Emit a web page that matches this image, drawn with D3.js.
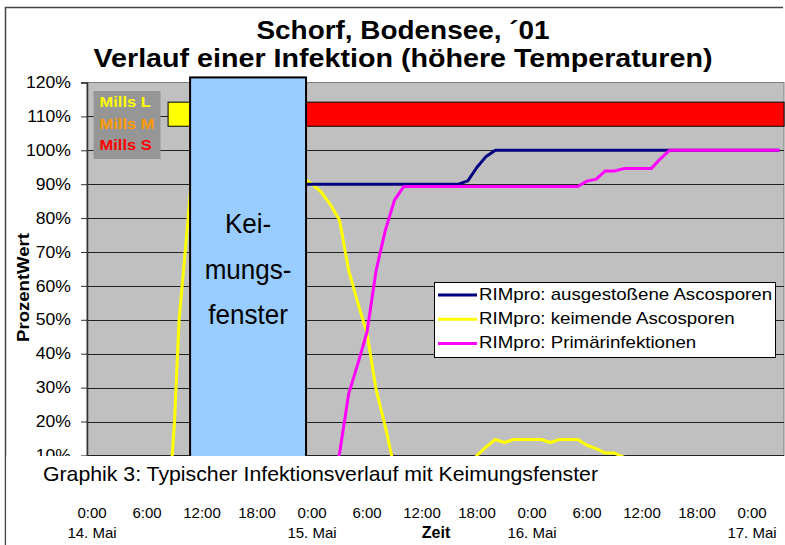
<!DOCTYPE html>
<html>
<head>
<meta charset="utf-8">
<script src="https://cdn.jsdelivr.net/npm/d3@7/dist/d3.min.js"></script>
<style>
  body { margin: 0; background: #fff; }
  svg { display: block; font-family: "Liberation Sans", Arial, sans-serif; }
</style>
</head>
<body>
<svg id="chart" width="785" height="545"></svg>
<script>
// ---- data (hours from 14. Mai 0:00, values in %) ----
const blueHours   = [12, 14, 17, 20, 40, 41, 42, 43, 44, 75];
const blueValues  = [0, 50, 85, 90, 90, 91, 95, 98.2, 100, 100];

const yellowHours  = [0, 8.5, 9, 9.5, 10, 11, 14, 18, 22, 23, 24, 25, 26, 27, 28, 29, 30, 31, 32, 33, 34, 36, 38, 40, 41,
                      42, 43, 44, 45, 46, 47, 48, 49, 50, 51, 52, 53, 54, 55, 56, 57, 58, 59, 60, 62, 64, 66, 70, 75];
const yellowValues = [0, 0, 20, 50, 65, 96, 100, 100, 95, 92, 90, 87.7, 84, 79.4, 64.6, 55, 46, 29.3, 18.5, 6, 3, 1, 1, 3, 6,
                      10, 12.5, 14.7, 13.8, 14.7, 14.7, 14.7, 14.7, 13.8, 14.7, 14.7, 14.7, 13, 12, 10.7, 10.7, 9.5, 8, 6, 4, 2, 1, 0, 0];

const magentaHours  = [0, 25, 26, 27, 28, 29, 30, 31, 32, 33, 34, 53, 54, 55, 56, 57, 58, 61, 62, 63, 75];
const magentaValues = [0, 0, 1, 10.5, 28.2, 37, 46.4, 64.6, 76.4, 85.3, 89.3, 89.3, 90.9, 91.5, 93.9, 93.9, 94.6, 94.6, 97.5, 100, 100];

const seriesNames = ["RIMpro: ausgestoßene Ascosporen", "RIMpro: keimende Ascosporen", "RIMpro: Primärinfektionen"];
const seriesColors = ["#000080", "#FFFF00", "#FF00FF"];

// Mills risk bars
const millsNames  = ["Mills L", "Mills M", "Mills S"];
const millsColors = ["#FFFF00", "#FF9900", "#FF0000"];
const millsStart  = [8.3, 14, 19];
const millsEnd    = [14, 19, 75.5];
const millsTop = 114.2, millsBottom = 107.1;

// Keimungsfenster
const keimStart = 10.7, keimEnd = 23.35, keimTop = 121.5;
const keimWords = ["Kei-", "mungs-", "fenster"];

// 0% lies under the caption panel, so the visible ticks start at 10%
const yTicks = [10, 20, 30, 40, 50, 60, 70, 80, 90, 100, 110, 120];
const timeHours  = [0, 6, 12, 18, 24, 30, 36, 42, 48, 54, 60, 66, 72];
const timeLabels = ["0:00", "6:00", "12:00", "18:00", "0:00", "6:00", "12:00", "18:00", "0:00", "6:00", "12:00", "18:00", "0:00"];
const dateHours  = [0, 24, 48, 72];
const dateLabels = ["14. Mai", "15. Mai", "16. Mai", "17. Mai"];

function stretch(sel, f) {
  sel.each(function() {
    let w = this.getComputedTextLength();
    d3.select(this).attr("textLength", w * f).attr("lengthAdjust", "spacingAndGlyphs");
  });
}

function draw() {
  let svg = d3.select("#chart");
  let left = 87, right = 784;

  let x = d3.scaleLinear().domain([0, 72]).range([92, 752]);
  let y = d3.scaleLinear().domain([0, 120]).range([489.3, 82.5]);

  // outer frame
  svg.append("line").attr("x1", 5).attr("x2", 783).attr("y1", 7.5).attr("y2", 7.5)
    .attr("stroke", "#444").attr("stroke-width", 1.5);
  svg.append("line").attr("x1", 5.5).attr("x2", 5.5).attr("y1", 7).attr("y2", 545)
    .attr("stroke", "#444").attr("stroke-width", 1.5);

  // title
  svg.append("text").attr("x", 403).attr("y", 39).attr("text-anchor", "middle")
    .style("font-size", "25px").style("font-weight", "bold")
    .attr("textLength", 293).attr("lengthAdjust", "spacingAndGlyphs")
    .text("Schorf, Bodensee, ´01");
  svg.append("text").attr("x", 403).attr("y", 67).attr("text-anchor", "middle")
    .style("font-size", "25px").style("font-weight", "bold")
    .attr("textLength", 619).attr("lengthAdjust", "spacingAndGlyphs")
    .text("Verlauf einer Infektion (höhere Temperaturen)");

  // plot area
  svg.append("rect").attr("x", left).attr("y", y(120)).attr("width", right - left).attr("height", y(0) - y(120))
    .attr("fill", "#C0C0C0").attr("stroke", "#808080").attr("stroke-width", 1);

  // gridlines
  svg.append("g").selectAll("line")
    .data(yTicks.filter(d => d < 120))
    .join("line")
    .attr("x1", left).attr("x2", right)
    .attr("y1", d => Math.round(y(d)) + 0.5).attr("y2", d => Math.round(y(d)) + 0.5)
    .attr("stroke", "#222").attr("stroke-width", 1);

  // y axis
  let yAxis = svg.append("g").attr("transform", "translate(" + left + ",0)")
    .call(d3.axisLeft(y).tickValues(yTicks).tickFormat(d => d + "%").tickSize(6).tickPadding(10));
  yAxis.select(".domain").attr("stroke", "#333").attr("stroke-width", 1.5);
  yAxis.selectAll(".tick line").attr("stroke", "#333");
  yAxis.selectAll(".tick text").style("font-size", "16px").style("font-family", "Liberation Sans, Arial, sans-serif")
    .attr("fill", "#000").call(stretch, 1.1);

  // y title
  svg.append("text").attr("transform", "translate(29,287.5) rotate(-90)")
    .attr("text-anchor", "middle").style("font-size", "17px").style("font-weight", "bold")
    .text("ProzentWert").call(stretch, 1.09);

  // Mills bars
  svg.append("g").selectAll("rect")
    .data(millsStart)
    .join("rect")
    .attr("x", (d, i) => x(d))
    .attr("width", (d, i) => x(millsEnd[i]) - x(d))
    .attr("y", y(millsTop))
    .attr("height", y(millsBottom) - y(millsTop))
    .attr("fill", (d, i) => millsColors[i])
    .attr("stroke", "#000").attr("stroke-width", 1);

  // Mills legend box
  svg.append("rect").attr("x", 93.5).attr("y", 91).attr("width", 67).attr("height", 68).attr("fill", "#969696");
  svg.append("g").selectAll("text")
    .data(millsNames)
    .join("text")
    .attr("x", 99.5)
    .attr("y", (d, i) => 107.3 + i * 21.4)
    .attr("fill", (d, i) => millsColors[i])
    .style("font-size", "15px").style("font-weight", "bold")
    .text(d => d)
    .call(stretch, 1.1);

  // series lines
  let line = d3.line().x(d => x(d[0])).y(d => y(d[1]));
  let series = [
    d3.zip(blueHours, blueValues),
    d3.zip(yellowHours, yellowValues),
    d3.zip(magentaHours, magentaValues)
  ];
  // draw yellow first, then blue, then magenta
  [1, 0, 2].forEach(function(i) {
    svg.append("path")
      .datum(series[i])
      .attr("d", line)
      .attr("fill", "none")
      .attr("stroke", seriesColors[i])
      .attr("stroke-width", 3)
      .attr("stroke-linejoin", "round");
  });

  // Keimungsfenster box
  svg.append("rect").attr("x", x(keimStart)).attr("y", y(keimTop))
    .attr("width", x(keimEnd) - x(keimStart)).attr("height", y(0) - y(keimTop))
    .attr("fill", "#99CCFF").attr("stroke", "#000").attr("stroke-width", 2);
  svg.append("g").selectAll("text")
    .data(keimWords)
    .join("text")
    .attr("x", (x(keimStart) + x(keimEnd)) / 2)
    .attr("y", (d, i) => 233 + i * 45.5)
    .attr("text-anchor", "middle")
    .style("font-size", "28px")
    .text(d => d)
    .call(stretch, 0.93);

  // series legend
  let lg = svg.append("g");
  lg.append("rect").attr("x", 434.5).attr("y", 282.5).attr("width", 341).attr("height", 75)
    .attr("fill", "#fff").attr("stroke", "#000").attr("stroke-width", 1);
  lg.selectAll("line")
    .data(seriesNames)
    .join("line")
    .attr("x1", 438).attr("x2", 477)
    .attr("y1", (d, i) => 295 + i * 24.3).attr("y2", (d, i) => 295 + i * 24.3)
    .attr("stroke", (d, i) => seriesColors[i]).attr("stroke-width", 3);
  lg.selectAll("text")
    .data(seriesNames)
    .join("text")
    .attr("x", 479)
    .attr("y", (d, i) => 299.5 + i * 24.2)
    .style("font-size", "17px")
    .text(d => d)
    .call(stretch, 1.1);

  // white caption panel covering the lower part
  svg.append("rect").attr("x", 6.3).attr("y", 456).attr("width", 785).attr("height", 100).attr("fill", "#fff");

  svg.append("text").attr("x", 43).attr("y", 481)
    .style("font-size", "21px")
    .attr("textLength", 555).attr("lengthAdjust", "spacingAndGlyphs")
    .text("Graphik 3: Typischer Infektionsverlauf mit Keimungsfenster");

  // time axis labels
  svg.append("g").selectAll("text")
    .data(timeHours)
    .join("text")
    .attr("x", d => x(d))
    .attr("y", 518)
    .attr("text-anchor", "middle")
    .style("font-size", "15px")
    .text((d, i) => timeLabels[i]);

  svg.append("g").selectAll("text")
    .data(dateHours)
    .join("text")
    .attr("x", d => x(d))
    .attr("y", 538)
    .attr("text-anchor", "middle")
    .style("font-size", "15px")
    .text((d, i) => dateLabels[i]);

  svg.append("text").attr("x", 436).attr("y", 538).attr("text-anchor", "middle")
    .style("font-size", "16px").style("font-weight", "bold")
    .text("Zeit");
}
draw();
</script>
</body>
</html>
